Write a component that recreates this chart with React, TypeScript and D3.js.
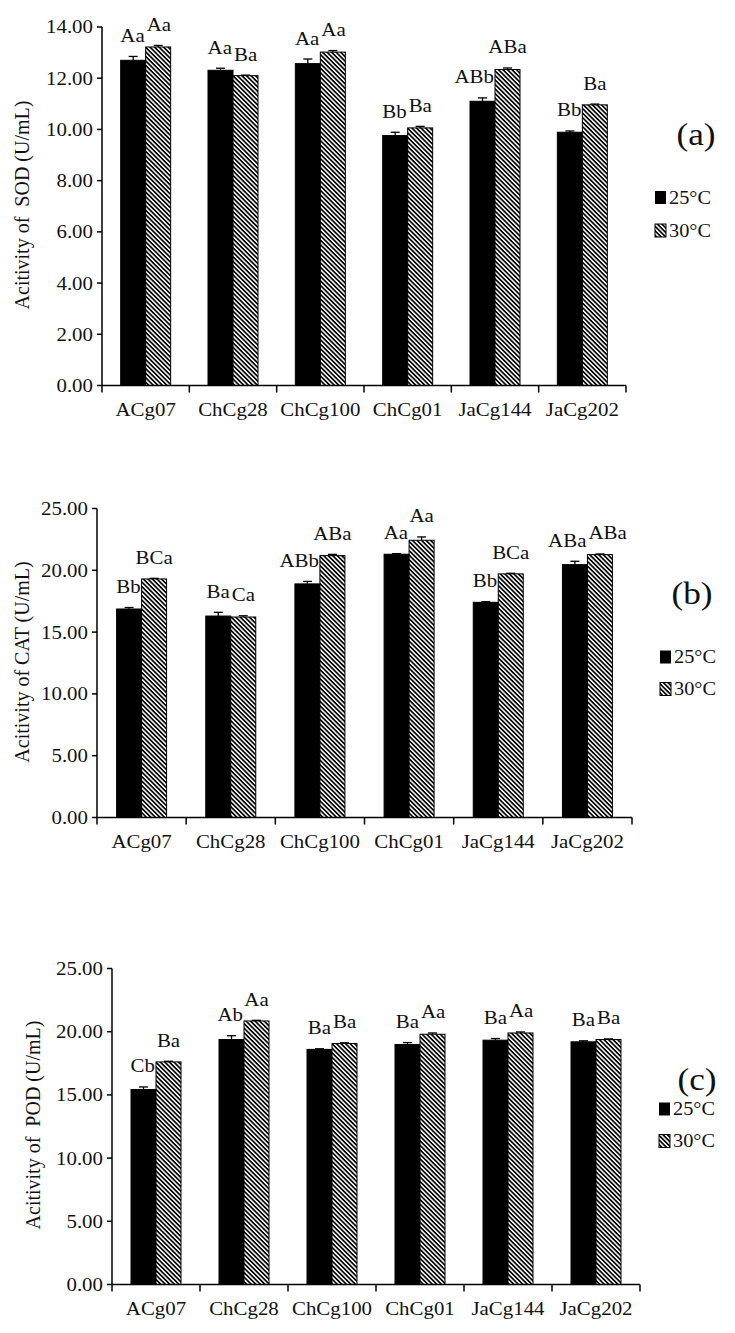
import React from "react";
import * as d3 from "d3";

const categories = ["ACg07", "ChCg28", "ChCg100", "ChCg01", "JaCg144", "JaCg202"];
const seriesNames = ["25°C", "30°C"];

const sod25 = [12.7, 12.31, 12.57, 9.76, 11.1, 9.89];
const sod25Err = [0.15, 0.08, 0.18, 0.13, 0.13, 0.05];
const sod30 = [13.22, 12.1, 13.02, 10.06, 12.34, 10.96];
const sod30Err = [0.06, 0.02, 0.06, 0.06, 0.06, 0.03];
const sod25Labels = ["Aa", "Aa", "Aa", "Bb", "ABb", "Bb"];
const sod30Labels = ["Aa", "Ba", "Aa", "Ba", "ABa", "Ba"];
const sodTicks = [0, 2, 4, 6, 8, 10, 12, 14];

const cat25 = [16.87, 16.3, 18.9, 21.3, 17.41, 20.46];
const cat25Err = [0.12, 0.3, 0.2, 0.05, 0.05, 0.27];
const cat30 = [19.3, 16.22, 21.19, 22.43, 19.71, 21.27];
const cat30Err = [0.05, 0.1, 0.1, 0.27, 0.05, 0.05];
const cat25Labels = ["Bb", "Ba", "ABb", "Aa", "Bb", "ABa"];
const cat30Labels = ["BCa", "Ca", "ABa", "Aa", "BCa", "ABa"];
const catTicks = [0, 5, 10, 15, 20, 25];

const pod25 = [15.43, 19.38, 18.6, 18.99, 19.33, 19.2];
const pod25Err = [0.2, 0.3, 0.05, 0.15, 0.13, 0.08];
const pod30 = [17.61, 20.85, 19.07, 19.8, 19.9, 19.38];
const pod30Err = [0.05, 0.05, 0.05, 0.1, 0.08, 0.05];
const pod25Labels = ["Cb", "Ab", "Ba", "Ba", "Ba", "Ba"];
const pod30Labels = ["Ba", "Aa", "Ba", "Aa", "Aa", "Ba"];
const podTicks = [0, 5, 10, 15, 20, 25];

const FONT = "'Liberation Serif', 'Times New Roman', 'DejaVu Serif', serif";
const INK = "#111";
const fmt = d3.format(".2f");

type TProps = {
  x: number;
  y: number;
  size: number;
  anchor?: "start" | "middle" | "end";
  sx?: number;
  dy?: string;
  children: React.ReactNode;
};
const T = ({ x, y, size, anchor = "start", sx = 1.13, dy, children }: TProps) => (
  <text
    transform={`translate(${x},${y}) scale(${sx},1)`}
    fontSize={size}
    textAnchor={anchor}
    fontFamily={FONT}
    fill={INK}
    dy={dy}
  >
    {children}
  </text>
);

type PanelProps = {
  x0: number;
  x1: number;
  yTop: number;
  y0: number;
  max: number;
  ticks: number[];
  v25: number[];
  e25: number[];
  v30: number[];
  e30: number[];
  l25: string[];
  l30: string[];
  title: string;
  titleX: number;
  titleY: number;
  tag: string;
  tagX: number;
  tagY: number;
  legX: number;
  legY1: number;
  legY2: number;
};

const Panel = (p: PanelProps) => {
  const x = d3.scaleBand<string>().domain(categories).range([p.x0, p.x1]).padding(0);
  const y = d3.scaleLinear().domain([0, p.max]).range([p.y0, p.yTop]);
  const barW = 25;
  const inner = d3
    .scaleBand<string>()
    .domain(seriesNames)
    .range([0, barW * 2]);
  const off = (x.bandwidth() - barW * 2) / 2;
  const series = [
    { name: seriesNames[0], vals: p.v25, errs: p.e25, labels: p.l25, fill: "#000" },
    { name: seriesNames[1], vals: p.v30, errs: p.e30, labels: p.l30, fill: "url(#hatch)" },
  ];
  const boundaries = [p.x0, ...categories.map((c) => (x(c) as number) + x.bandwidth())];
  const labelY = (s: number, i: number) => {
    const ser = series[s];
    return y(ser.vals[i] + ser.errs[i]) - 14.5;
  };
  return (
    <g>
      {/* labels (drawn below bars) */}
      {categories.map((c, i) => {
        const gc = (x(c) as number) + x.bandwidth() / 2;
        const yb = labelY(0, i);
        const yh = labelY(1, i);
        const close = Math.abs(yb - yh) < 14;
        const hx = (x(c) as number) + off + (inner(seriesNames[1]) as number) + barW / 2;
        return (
          <g key={"lab" + c}>
            <T x={gc - 1} y={yb} size={19} anchor="end" sx={1.1}>
              {p.l25[i]}
            </T>
            <T x={close ? gc + 1 : hx} y={yh} size={19} anchor={close ? "start" : "middle"} sx={1.1}>
              {p.l30[i]}
            </T>
          </g>
        );
      })}
      {/* bars */}
      {series.map((s) =>
        categories.map((c, i) => {
          const bx = (x(c) as number) + off + (inner(s.name) as number);
          const top = y(s.vals[i]);
          const et = y(s.vals[i] + s.errs[i]);
          return (
            <g key={"b" + s.name + c}>
              <rect x={bx} y={top} width={barW} height={p.y0 - top} fill={s.fill} stroke="#000" strokeWidth={1} />
              <line x1={bx + barW / 2} x2={bx + barW / 2} y1={top} y2={et} stroke="#000" strokeWidth={1.3} />
              <line x1={bx + barW / 2 - 4.5} x2={bx + barW / 2 + 4.5} y1={et} y2={et} stroke="#000" strokeWidth={1.3} />
            </g>
          );
        })
      )}
      {/* y axis */}
      <line x1={p.x0} x2={p.x0} y1={y(p.max)} y2={p.y0} stroke="#000" strokeWidth={1.5} />
      {p.ticks.map((t) => (
        <g key={"t" + t}>
          <line x1={p.x0 - 5} x2={p.x0} y1={y(t)} y2={y(t)} stroke="#000" strokeWidth={1.5} />
          <T x={p.x0 - 9} y={y(t)} size={18.5} anchor="end" dy="0.35em">
            {fmt(t)}
          </T>
        </g>
      ))}
      {/* x axis */}
      <line x1={p.x0} x2={p.x1} y1={p.y0} y2={p.y0} stroke="#000" strokeWidth={1.5} />
      {boundaries.map((b, i) => (
        <line key={"xb" + i} x1={b} x2={b} y1={p.y0} y2={p.y0 + 7} stroke="#000" strokeWidth={1.5} />
      ))}
      {categories.map((c) => (
        <T key={"xl" + c} x={(x(c) as number) + x.bandwidth() / 2} y={p.y0 + 30} size={18.5} anchor="middle">
          {c}
        </T>
      ))}
      {/* y title */}
      <text
        transform={`translate(${p.titleX},${p.titleY}) rotate(-90)`}
        fontSize={20}
        textAnchor="middle"
        fontFamily={FONT}
        fill={INK}
        dy="0.35em"
        style={{ whiteSpace: "pre" }}
      >
        {p.title}
      </text>
      {/* panel tag */}
      <T x={p.tagX} y={p.tagY} size={32} anchor="middle" sx={1.1}>
        {p.tag}
      </T>
      {/* legend */}
      <rect x={p.legX} y={p.legY1 - 6.5} width={11} height={13} fill="#000" />
      <T x={p.legX + 14} y={p.legY1} size={18} dy="0.35em">
        {seriesNames[0]}
      </T>
      <rect x={p.legX} y={p.legY2 - 6.5} width={11} height={13} fill="url(#hatch)" stroke="#000" strokeWidth={1} />
      <T x={p.legX + 14} y={p.legY2} size={18} dy="0.35em">
        {seriesNames[1]}
      </T>
    </g>
  );
};

export default function App() {
  return (
    <svg width={735} height={1333} style={{ position: "absolute", left: 0, top: 0, background: "#fff" }}>
      <defs>
        <pattern id="hatch" patternUnits="userSpaceOnUse" width={3.2} height={3.2} patternTransform="rotate(45)">
          <rect x={0} y={0} width={3.2} height={3.2} fill="#fff" />
          <rect x={0} y={0} width={3.2} height={1.7} fill="#000" />
        </pattern>
      </defs>
      <rect x={0} y={0} width={735} height={1333} fill="#fff" />
      <Panel
        x0={102}
        x1={626}
        yTop={27}
        y0={385.5}
        max={14}
        ticks={sodTicks}
        v25={sod25}
        e25={sod25Err}
        v30={sod30}
        e30={sod30Err}
        l25={sod25Labels}
        l30={sod30Labels}
        title={"Acitivity of  SOD (U/mL)"}
        titleX={22}
        titleY={205}
        tag="(a)"
        tagX={696}
        tagY={145}
        legX={655}
        legY1={197.5}
        legY2={230.5}
      />
      <Panel
        x0={97}
        x1={632}
        yTop={508.5}
        y0={817.5}
        max={25}
        ticks={catTicks}
        v25={cat25}
        e25={cat25Err}
        v30={cat30}
        e30={cat30Err}
        l25={cat25Labels}
        l30={cat30Labels}
        title={"Acitivity of CAT (U/mL)"}
        titleX={22}
        titleY={662}
        tag="(b)"
        tagX={692}
        tagY={604}
        legX={660}
        legY1={657}
        legY2={689}
      />
      <Panel
        x0={112}
        x1={640}
        yTop={968.5}
        y0={1284.5}
        max={25}
        ticks={podTicks}
        v25={pod25}
        e25={pod25Err}
        v30={pod30}
        e30={pod30Err}
        l25={pod25Labels}
        l30={pod30Labels}
        title={"Acitivity of  POD (U/mL)"}
        titleX={33}
        titleY={1125}
        tag="(c)"
        tagX={697}
        tagY={1090}
        legX={659}
        legY1={1109}
        legY2={1141}
      />
    </svg>
  );
}
